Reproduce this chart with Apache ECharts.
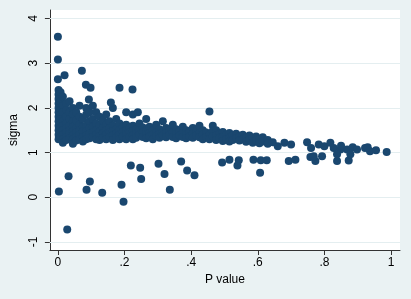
<!DOCTYPE html>
<html><head><meta charset="utf-8">
<script src="https://cdn.jsdelivr.net/npm/echarts@6/dist/echarts.min.js"></script>
<style>html,body{margin:0;padding:0;background:#eaf2f3;}#c{width:411px;height:299px;}</style>
</head><body><div id="c"></div>
<script>
// Tick values
const xTicks = [0, 0.2, 0.4, 0.6, 0.8, 1];
const xTickLabels = ['0', '.2', '.4', '.6', '.8', '1'];
const yTicks = [-1, 0, 1, 2, 3, 4];
const yTickLabels = ['-1', '0', '1', '2', '3', '4'];

// [P value, sigma] pairs
const highOutliers = [
  [0.0,3.59],[0.0,3.08],[0.0,2.64],[0.02,2.73],[0.072,2.83],[0.084,2.52],[0.098,2.45],
  [0.185,2.45],[0.224,2.41],[0.24,1.90],[0.159,2.12],[0.093,2.19],[0.455,1.92]
];
const lowOutliers = [
  [0.003,0.13],[0.032,0.47],[0.028,-0.72],[0.086,0.17],[0.096,0.35],[0.133,0.10],
  [0.191,0.28],[0.197,-0.10],[0.219,0.71],[0.247,0.66],[0.25,0.41],[0.302,0.75],
  [0.32,0.52],[0.336,0.17],[0.37,0.80],[0.388,0.60],[0.41,0.49],[0.493,0.78],
  [0.515,0.84],[0.539,0.71],[0.543,0.83],[0.587,0.84],[0.607,0.55],[0.609,0.83],
  [0.627,0.83],[0.693,0.81],[0.713,0.84],[0.758,0.90],[0.773,0.81],[0.793,0.92],
  [0.838,0.81],[0.873,0.82],[0.878,0.96],[0.987,1.01],[0.838,0.96],[0.768,0.92]
];
const bandLow = [
  [0.002,2.4],[0.002,2.3],[0.002,2.2],[0.002,2.1],[0.002,2.0],[0.002,1.9],[0.002,1.8],[0.002,1.7],[0.002,1.6],[0.002,1.5],[0.002,1.4],[0.002,1.3],
  [0.008,2.35],[0.008,2.15],[0.008,1.95],[0.008,1.85],[0.008,1.75],[0.008,1.65],[0.008,1.55],[0.008,1.45],[0.008,1.35],
  [0.015,2.25],[0.015,2.05],[0.015,1.9],[0.015,1.7],[0.015,1.6],[0.015,1.5],[0.015,1.4],[0.015,1.3],[0.015,1.22],
  [0.025,2.1],[0.025,1.95],[0.025,1.8],[0.025,1.65],[0.025,1.55],[0.025,1.45],[0.025,1.35],[0.025,1.28],
  [0.035,2.15],[0.035,1.9],[0.035,1.75],[0.035,1.6],[0.035,1.5],[0.035,1.42],[0.035,1.32],
  [0.045,2.0],[0.045,1.85],[0.045,1.7],[0.045,1.58],[0.045,1.47],[0.045,1.38],[0.045,1.3],[0.045,1.2],
  [0.055,1.9],[0.055,1.72],[0.055,1.55],[0.055,1.45],[0.055,1.35],[0.055,1.27],
  [0.065,2.05],[0.065,1.8],[0.065,1.62],[0.065,1.5],[0.065,1.4],[0.065,1.3],
  [0.075,1.75],[0.075,1.58],[0.075,1.47],[0.075,1.35],[0.075,1.25],
  [0.085,2.0],[0.085,1.85],[0.085,1.6],[0.085,1.48],[0.085,1.38],[0.085,1.3],
  [0.095,1.9],[0.095,1.7],[0.095,1.55],[0.095,1.42],[0.095,1.32],
  [0.105,2.05],[0.105,1.75],[0.105,1.58],[0.105,1.45],[0.105,1.35],
  [0.115,1.9],[0.115,1.65],[0.115,1.5],[0.115,1.4],[0.115,1.3],
  [0.125,1.8],[0.125,1.6],[0.125,1.47],[0.125,1.37],[0.125,1.28],
  [0.135,1.72],[0.135,1.55],[0.135,1.43],[0.135,1.33],
  [0.145,1.85],[0.145,1.62],[0.145,1.5],[0.145,1.4],[0.145,1.3],
  [0.155,1.7],[0.155,1.55],[0.155,1.45],[0.155,1.35],
  [0.165,2.0],[0.165,1.6],[0.165,1.48],[0.165,1.38],[0.165,1.28],
  [0.175,1.75],[0.175,1.52],[0.175,1.42],[0.175,1.33],
  [0.185,1.65],[0.185,1.5],[0.185,1.4],[0.185,1.3],
  [0.195,1.58],[0.195,1.46],[0.195,1.36]
];
const bandMid = [
  [0.205,1.9],[0.205,1.62],[0.205,1.5],[0.205,1.4],[0.205,1.3],
  [0.215,1.55],[0.215,1.45],[0.215,1.35],
  [0.225,1.85],[0.225,1.6],[0.225,1.48],[0.225,1.38],[0.225,1.3],
  [0.235,1.52],[0.235,1.42],[0.235,1.33],
  [0.245,1.65],[0.245,1.5],[0.245,1.4],
  [0.255,1.56],[0.255,1.45],[0.255,1.35],
  [0.265,1.75],[0.265,1.5],[0.265,1.4],[0.265,1.32],
  [0.275,1.58],[0.275,1.44],[0.275,1.36],
  [0.285,1.5],[0.285,1.4],[0.285,1.3],
  [0.295,1.62],[0.295,1.46],[0.295,1.37],
  [0.305,1.52],[0.305,1.42],[0.305,1.33],
  [0.315,1.7],[0.315,1.47],[0.315,1.38],
  [0.325,1.55],[0.325,1.43],[0.325,1.34],
  [0.335,1.5],[0.335,1.4],
  [0.345,1.62],[0.345,1.45],[0.345,1.35],
  [0.355,1.52],[0.355,1.42],[0.355,1.32],
  [0.365,1.48],[0.365,1.38],
  [0.375,1.58],[0.375,1.44],[0.375,1.35],
  [0.385,1.5],[0.385,1.4],[0.385,1.32],
  [0.395,1.46],[0.395,1.36],
  [0.405,1.55],[0.405,1.42],[0.405,1.33],
  [0.415,1.48],[0.415,1.38],
  [0.425,1.6],[0.425,1.43],[0.425,1.34],
  [0.435,1.5],[0.435,1.4],[0.435,1.3],
  [0.445,1.45],[0.445,1.35],
  [0.455,1.4],[0.455,1.3],
  [0.465,1.6],[0.465,1.48],[0.465,1.36],
  [0.475,1.5],[0.475,1.38],[0.475,1.28],
  [0.485,1.42],[0.485,1.32],
  [0.495,1.46],[0.495,1.35],[0.495,1.26]
];
const bandHigh = [
  [0.505,1.4],[0.505,1.3],[0.515,1.44],[0.515,1.33],[0.515,1.25],
  [0.525,1.38],[0.525,1.28],[0.535,1.42],[0.535,1.32],[0.545,1.36],[0.545,1.27],
  [0.555,1.4],[0.555,1.3],[0.565,1.34],[0.565,1.24],[0.575,1.38],[0.575,1.29],
  [0.585,1.33],[0.585,1.22],[0.595,1.36],[0.595,1.27],[0.605,1.3],[0.605,1.21],
  [0.615,1.34],[0.615,1.25],[0.63,1.28],[0.63,1.2],[0.645,1.23],[0.66,1.14],
  [0.68,1.22],[0.70,1.18],[0.748,1.23],[0.76,1.10],[0.783,1.18],[0.80,1.14],
  [0.818,1.22],[0.828,1.10],[0.848,1.07],[0.868,1.07],[0.885,1.12],[0.898,1.07],
  [0.922,1.10],[0.937,1.03],[0.955,1.05],[0.93,1.12],[0.85,1.15]
];

const allPoints = [].concat(bandLow, bandMid, bandHigh, highOutliers, lowOutliers);

const chart = echarts.init(document.getElementById('c'), null, {renderer: 'canvas'});
const font = 'Liberation Sans, Arial, sans-serif';
chart.setOption({
  backgroundColor: '#eaf2f3',
  animation: false,
  grid: {left: 48, right: 11, top: 10, bottom: 49, show: true, backgroundColor: '#ffffff', borderWidth: 0},
  xAxis: {
    type: 'value', min: -0.024, max: 1.027,
    name: 'P value', nameLocation: 'middle', nameGap: 24,
    nameTextStyle: {fontFamily: font, fontSize: 12, color: '#000'},
    axisLine: {show: true, onZero: false, lineStyle: {color: '#333', width: 1}},
    axisTick: {show: true, length: 5, customValues: xTicks, lineStyle: {color: '#333'}},
    axisLabel: {customValues: xTicks, margin: 7, fontFamily: font, fontSize: 12, color: '#000',
      formatter: v => xTickLabels[xTicks.indexOf(v)]},
    splitLine: {show: false}
  },
  yAxis: {
    type: 'value', min: -1.18, max: 4.19,
    name: 'sigma', nameLocation: 'middle', nameGap: 26, nameRotate: 90,
    nameTextStyle: {fontFamily: font, fontSize: 12, color: '#000'},
    axisLine: {show: true, onZero: false, lineStyle: {color: '#333', width: 1}},
    axisTick: {show: true, length: 5, customValues: yTicks, lineStyle: {color: '#333'}},
    axisLabel: {customValues: yTicks, rotate: 90, margin: 10, fontFamily: font, fontSize: 12, color: '#000',
      formatter: v => yTickLabels[yTicks.indexOf(v)]},
    splitLine: {show: false}
  },
  series: [{
    type: 'scatter',
    data: [],
    z: 1,
    markLine: {
      silent: true, symbol: 'none', label: {show: false}, z: 1,
      lineStyle: {color: '#e4eef0', width: 1, type: 'solid'},
      data: yTicks.map(v => ({yAxis: v}))
    }
  }, {
    type: 'scatter',
    data: allPoints,
    symbolSize: 8,
    itemStyle: {color: '#1a476f', opacity: 1},
    z: 6
  }]
});
</script></body></html>
